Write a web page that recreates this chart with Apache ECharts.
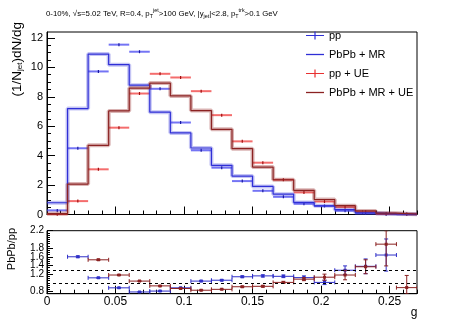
<!DOCTYPE html>
<html>
<head>
<meta charset="utf-8">
<script src="https://cdn.jsdelivr.net/npm/echarts@6/dist/echarts.min.js"></script>
<style>
  html, body { margin: 0; padding: 0; background: #fff; }
  #chart { width: 465px; height: 324px; }
</style>
</head>
<body>
<div id="chart"></div>
<script>
// bin edges in g (18 bins)
const binEdges = [0, 0.015, 0.03, 0.045, 0.06, 0.075, 0.09, 0.105, 0.12, 0.135,
  0.15, 0.165, 0.18, 0.195, 0.21, 0.225, 0.24, 0.255, 0.27];

// upper pad: (1/N_jet) dN/dg
const ppVals = [0.28, 4.5, 9.72, 11.54, 11.06, 8.54, 6.25, 4.36, 3.18, 2.27, 1.61, 1.2, 0.73, 0.58, 0.26, 0.08, 0.025, 0.01];
const pbpbMrVals = [0.8, 7.2, 10.9, 10.18, 8.79, 6.95, 5.54, 4.52, 3.34, 2.61, 1.91, 1.38, 0.82, 0.59, 0.33, 0.11, 0.04, 0.01];
const ppUeVals = [0.02, 0.91, 3.07, 5.9, 8.22, 9.56, 9.31, 8.38, 6.75, 4.97, 3.52, 2.36, 1.5, 0.88, 0.5, 0.18, 0.05, 0.03];
const pbpbMrUeVals = [0.06, 2.07, 4.7, 7.04, 8.59, 8.93, 8.06, 7.06, 5.79, 4.47, 3.22, 2.36, 1.64, 1.02, 0.6, 0.24, 0.09, 0.025];

// lower pad: ratios and their errors (null = outside the pad)
const ratioMr = [null, 1.6, 1.115, 0.885, 0.79, 0.81, 0.885, 1.04, 1.06, 1.14, 1.16, 1.15, 1.12, 1.01, 1.29, 1.38, 1.64, null];
const ratioMrErr = [0, 0.02, 0.012, 0.01, 0.01, 0.01, 0.01, 0.015, 0.015, 0.02, 0.025, 0.03, 0.04, 0.05, 0.1, 0.17, 0.37, 0];
const ratioMrUe = [null, null, 1.53, 1.18, 1.04, 0.93, 0.87, 0.83, 0.85, 0.91, 0.92, 1.01, 1.085, 1.13, 1.18, 1.37, 1.89, 0.89];
const ratioMrUeErr = [0, 0, 0.015, 0.01, 0.01, 0.01, 0.01, 0.01, 0.01, 0.015, 0.02, 0.025, 0.035, 0.07, 0.11, 0.16, 0.5, 0.28];
const refLines = [1, 1.3];

// ticks
const xMajor = [0, 0.05, 0.1, 0.15, 0.2, 0.25];
const yMajor = [0, 2, 4, 6, 8, 10, 12];
const ratioMajor = [0.8, 1, 1.2, 1.4, 1.6, 1.8, 2, 2.2];

const X_MAX = 0.27, Y_MAX = 12.4, R_MIN = 0.75, R_MAX = 2.2;
const FONT = 'Liberation Sans, Arial, Helvetica, sans-serif';

function steps(from, to, step) {
  const out = [];
  for (let i = 0; from + i * step <= to + 1e-9; i++) out.push(+(from + i * step).toFixed(4));
  return out;
}
const xMinor = steps(0, X_MAX, 0.01);
const yMinor = steps(0, Y_MAX, 0.5);
const ratioMinor = steps(R_MIN, R_MAX, 0.05);

const blue = '#2f2fd6';
const maroon = '#8b2222';

function stepData(vals) {
  const d = vals.map((v, i) => [binEdges[i], v]);
  d.push([binEdges[vals.length], vals[vals.length - 1]]);
  return d;
}
function pointData(vals) {
  return vals.map((v, i) => [binEdges[i], binEdges[i + 1], v]);
}
function ratioData(vals, errs) {
  const out = [];
  vals.forEach((v, i) => { if (v != null) out.push([binEdges[i], binEdges[i + 1], v, errs[i]]); });
  return out;
}

function renderPoint(light, dark) {
  return function (params, api) {
    const a = api.coord([api.value(0), api.value(2)]);
    const b = api.coord([api.value(1), api.value(2)]);
    const m = (a[0] + b[0]) / 2;
    return { type: 'group', children: [
      { type: 'line', shape: { x1: a[0], y1: a[1], x2: b[0], y2: b[1] }, style: { stroke: light, lineWidth: 2 } },
      { type: 'line', shape: { x1: m, y1: a[1] - 1.5, x2: m, y2: a[1] + 1.5 }, style: { stroke: dark, lineWidth: 1.2 } }
    ] };
  };
}

function renderRatio(color) {
  return function (params, api) {
    const lo = api.value(0), hi = api.value(1), v = api.value(2), e = api.value(3);
    const a = api.coord([lo, v]);
    const b = api.coord([hi, v]);
    const m = (a[0] + b[0]) / 2;
    const yt = api.coord([lo, Math.min(v + e, R_MAX)])[1];
    const yb = api.coord([lo, Math.max(v - e, R_MIN)])[1];
    const st = { stroke: color, lineWidth: 1 };
    const kids = [
      { type: 'line', shape: { x1: a[0], y1: a[1], x2: b[0], y2: b[1] }, style: st },
      { type: 'line', shape: { x1: a[0], y1: a[1] - 2, x2: a[0], y2: a[1] + 2 }, style: st },
      { type: 'line', shape: { x1: b[0], y1: b[1] - 2, x2: b[0], y2: b[1] + 2 }, style: st },
      { type: 'line', shape: { x1: m, y1: yt, x2: m, y2: yb }, style: st },
      { type: 'line', shape: { x1: m - 2, y1: yt, x2: m + 2, y2: yt }, style: st },
      { type: 'line', shape: { x1: m - 2, y1: yb, x2: m + 2, y2: yb }, style: st },
      { type: 'rect', shape: { x: m - 1.5, y: a[1] - 1.5, width: 3, height: 3 }, style: { fill: color } }
    ];
    return { type: 'group', children: kids };
  };
}

function xAxisPair(grid, labels) {
  const line = { lineStyle: { color: '#000', width: 1 } };
  return [
    { gridIndex: grid, type: 'value', min: 0, max: X_MAX, position: 'bottom',
      axisLine: { onZero: false, ...line },
      axisTick: { inside: true, length: 8, customValues: xMajor, ...line },
      axisLabel: { show: labels, customValues: xMajor, color: '#000', fontSize: 12, fontFamily: FONT, margin: 2,
        showMinLabel: true, showMaxLabel: true },
      splitLine: { show: false } },
    { gridIndex: grid, type: 'value', min: 0, max: X_MAX, position: 'bottom',
      axisLine: { show: false, onZero: false },
      axisTick: { inside: true, length: 4, customValues: xMinor, ...line },
      axisLabel: { show: false }, splitLine: { show: false } }
  ];
}

const chart = echarts.init(document.getElementById('chart'));

const option = {
  animation: false,
  textStyle: { fontFamily: FONT },
  title: {
    left: 46, top: 8, padding: 0,
    text: '0-10%, √s=5.02 TeV, R=0.4, p{s|T}{u|jet}>100 GeV, |y{s|jet}|<2.8, p{s|T}{u|trk}>0.1 GeV',
    textStyle: {
      fontSize: 7.8, fontWeight: 'normal', color: '#000', fontFamily: FONT, lineHeight: 11,
      rich: {
        s: { fontSize: 5.4, lineHeight: 6, verticalAlign: 'bottom', fontFamily: FONT, color: '#000' },
        u: { fontSize: 5.4, lineHeight: 2, verticalAlign: 'top', fontFamily: FONT, color: '#000' }
      }
    }
  },
  grid: [
    { left: 47, right: 48, top: 32, height: 182.5, show: true, borderColor: '#000', borderWidth: 1, outerBoundsMode: 'none' },
    { left: 47, right: 48, top: 230.7, height: 63, show: true, borderColor: '#000', borderWidth: 1, outerBoundsMode: 'none' }
  ],
  xAxis: [...xAxisPair(0, false), ...xAxisPair(1, true)],
  yAxis: [
    { gridIndex: 0, type: 'value', min: 0, max: Y_MAX, position: 'left',
      axisLine: { show: true, onZero: false, lineStyle: { color: '#000' } },
      axisTick: { inside: true, length: 8, customValues: yMajor, lineStyle: { color: '#000' } },
      axisLabel: { customValues: yMajor, color: '#000', fontSize: 11, fontFamily: FONT, margin: 4,
        showMinLabel: true, showMaxLabel: true },
      splitLine: { show: false } },
    { gridIndex: 0, type: 'value', min: 0, max: Y_MAX, position: 'left',
      axisLine: { show: false, onZero: false },
      axisTick: { inside: true, length: 4, customValues: yMinor, lineStyle: { color: '#000' } },
      axisLabel: { show: false }, splitLine: { show: false } },
    { gridIndex: 1, type: 'value', min: R_MIN, max: R_MAX, position: 'left',
      axisLine: { show: true, onZero: false, lineStyle: { color: '#000' } },
      axisTick: { inside: true, length: 6, customValues: ratioMajor, lineStyle: { color: '#000' } },
      axisLabel: { customValues: ratioMajor, color: '#000', fontSize: 10, fontFamily: FONT, margin: 3,
        showMinLabel: true, showMaxLabel: true, hideOverlap: false },
      splitLine: { show: false } },
    { gridIndex: 1, type: 'value', min: R_MIN, max: R_MAX, position: 'left',
      axisLine: { show: false, onZero: false },
      axisTick: { inside: true, length: 3, customValues: ratioMinor, lineStyle: { color: '#000' } },
      axisLabel: { show: false }, splitLine: { show: false } }
  ],
  legend: [
    { name: 'pp', top: 30, color: blue, icon: 'path://M0,3.4H8.4V0H9.6V3.4H18V4.6H9.6V8H8.4V4.6H0Z', w: 18, h: 8 },
    { name: 'PbPb + MR', top: 49, color: blue, icon: 'rect', w: 18, h: 1.3 },
    { name: 'pp + UE', top: 68, color: '#e83030', icon: 'path://M0,3.4H8.4V0H9.6V3.4H18V4.6H9.6V8H8.4V4.6H0Z', w: 18, h: 8 },
    { name: 'PbPb + MR + UE', top: 87, color: maroon, icon: 'rect', w: 18, h: 1.3 }
  ].map(l => ({
    left: 306, top: l.top, padding: 0, itemWidth: l.w, itemHeight: l.h,
    selectedMode: false,
    data: [{ name: l.name, icon: l.icon, itemStyle: { color: l.color } }],
    textStyle: { fontSize: 11, color: '#000', fontFamily: FONT }
  })),
  series: [
    { name: 'PbPb + MR band', type: 'line', step: 'end', xAxisIndex: 0, yAxisIndex: 0, silent: true,
      symbol: 'none', data: stepData(pbpbMrVals), lineStyle: { color: 'rgba(60,60,220,0.3)', width: 4 } },
    { name: 'PbPb + MR + UE band', type: 'line', step: 'end', xAxisIndex: 0, yAxisIndex: 0, silent: true,
      symbol: 'none', data: stepData(pbpbMrUeVals), lineStyle: { color: 'rgba(150,40,40,0.35)', width: 4 } },
    { name: 'PbPb + MR', type: 'line', step: 'end', xAxisIndex: 0, yAxisIndex: 0, silent: true,
      symbol: 'none', color: blue, data: stepData(pbpbMrVals), lineStyle: { color: blue, width: 1.2 } },
    { name: 'PbPb + MR + UE', type: 'line', step: 'end', xAxisIndex: 0, yAxisIndex: 0, silent: true,
      symbol: 'none', color: maroon, data: stepData(pbpbMrUeVals), lineStyle: { color: maroon, width: 1.2 } },
    { name: 'pp', type: 'custom', xAxisIndex: 0, yAxisIndex: 0, silent: true, itemStyle: { color: blue },
      encode: { x: [0, 1], y: 2 }, data: pointData(ppVals), renderItem: renderPoint('rgba(70,70,240,0.75)', '#1a1aa0') },
    { name: 'pp + UE', type: 'custom', xAxisIndex: 0, yAxisIndex: 0, silent: true, itemStyle: { color: '#e83030' },
      encode: { x: [0, 1], y: 2 }, data: pointData(ppUeVals), renderItem: renderPoint('rgba(240,60,60,0.75)', '#a01010') },
    { name: 'PbPb/pp MR', type: 'custom', xAxisIndex: 2, yAxisIndex: 2, silent: true, clip: true,
      encode: { x: [0, 1], y: 2 }, data: ratioData(ratioMr, ratioMrErr), renderItem: renderRatio('#3030c8'),
      markLine: { silent: true, symbol: 'none', label: { show: false },
        lineStyle: { color: '#000', width: 1, type: [3, 3] },
        data: refLines.map(v => ({ yAxis: v })) } },
    { name: 'PbPb/pp MR+UE', type: 'custom', xAxisIndex: 2, yAxisIndex: 2, silent: true, clip: true,
      encode: { x: [0, 1], y: 2 }, data: ratioData(ratioMrUe, ratioMrUeErr), renderItem: renderRatio(maroon) }
  ],
  graphic: [
    { type: 'text', x: 17, y: 22, rotation: Math.PI / 2,
      style: { text: '(1/N{s|jet})dN/dg', fontSize: 13.5, fontFamily: FONT, fill: '#000',
        align: 'right', verticalAlign: 'middle',
        rich: { s: { fontSize: 8, fontFamily: FONT, verticalAlign: 'bottom', lineHeight: 9 } } } },
    { type: 'text', x: 12, y: 228, rotation: Math.PI / 2,
      style: { text: 'PbPb/pp', fontSize: 11, fontFamily: FONT, fill: '#000', align: 'right', verticalAlign: 'middle' } },
    { type: 'text', x: 414, y: 313,
      style: { text: 'g', fontSize: 12, fontFamily: FONT, fill: '#000', align: 'center', verticalAlign: 'middle' } }
  ]
};

chart.setOption(option);
</script>
</body>
</html>
